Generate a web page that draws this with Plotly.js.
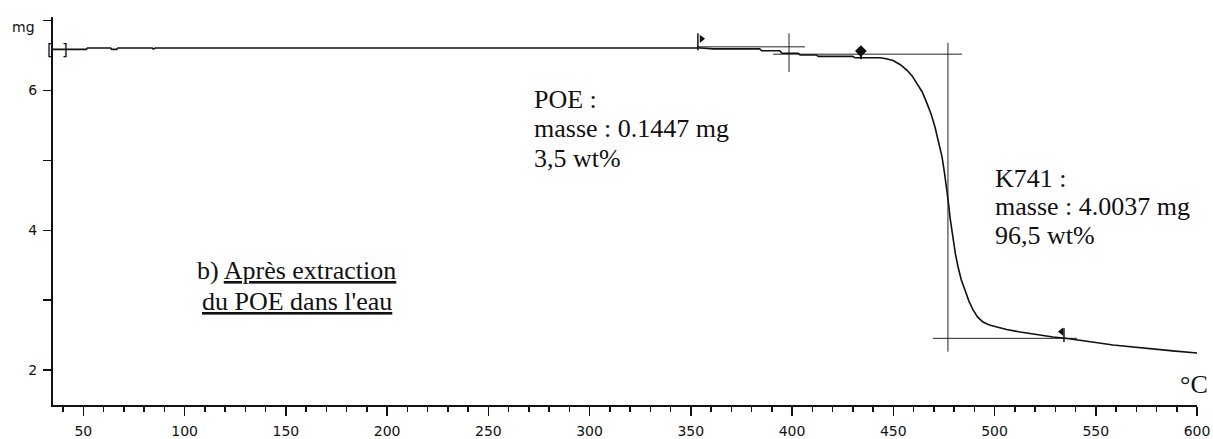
<!DOCTYPE html>
<html>
<head>
<meta charset="utf-8">
<script src="https://cdn.plot.ly/plotly-3.0.1.min.js"></script>
<style>html,body{margin:0;padding:0;background:#fff;}#chart{width:1213px;height:439px;}</style>
</head>
<body>
<div id="chart"></div>
<script>
// ---- TGA curve (temperature in °C, mass in mg) ----
const temperature = [35, 51.5, 52, 63.5, 64, 66.5, 67, 84, 84.5, 85.5, 150, 250, 340, 355, 361, 384, 385, 394, 395, 403, 404, 412, 413, 430, 431,
  443.4, 446.5, 449.9, 453.5, 456.8, 459.3, 461.7, 464.3, 466.6, 468.7, 470.6, 472.4, 474.1, 475.3, 476.5, 477.3, 478.0, 478.8, 479.5, 480.7,
  482.0, 483.6, 485.4, 487.3, 489.4, 491.6, 494.3, 497.5, 501.2, 506, 512.6, 520, 528.9, 535, 542.2, 550, 558.5, 566, 575.3, 588, 600];
const mass = [6.59, 6.59, 6.61, 6.61, 6.59, 6.59, 6.61, 6.61, 6.595, 6.61, 6.61, 6.61, 6.61, 6.61, 6.597, 6.597, 6.57, 6.57, 6.535, 6.535, 6.51, 6.51, 6.49, 6.49, 6.47,
  6.47, 6.455, 6.43, 6.37, 6.29, 6.21, 6.107, 5.98, 5.82, 5.66, 5.478, 5.27, 5.048, 4.82, 4.576, 4.38, 4.19, 4.02, 3.861, 3.66,
  3.475, 3.29, 3.146, 2.99, 2.86, 2.76, 2.687, 2.645, 2.616, 2.58, 2.544, 2.51, 2.473, 2.455, 2.43, 2.395, 2.358, 2.335, 2.315, 2.275, 2.244];

// ---- construction lines of the step analysis (x pairs / y pairs) ----
const poeTangentX = [353, 406.4],  poeTangentY = [6.626, 6.626];
const poeCrossX   = [398.5, 398.5], poeCrossY  = [6.82, 6.267];
const k741TopX    = [390.6, 483.9], k741TopY   = [6.521, 6.521];
const k741VertX   = [477, 477],     k741VertY  = [6.683, 2.263];
const k741BotX    = [469.6, 540.7], k741BotY   = [2.454, 2.454];

// ---- step markers ----
const flag1PoleX = [353.5, 353.5], flag1PoleY = [6.82, 6.578];
const flag1X = [355.3], flag1Y = [6.74];
const diamondX = [434.0], diamondY = [6.566];
const diamondStemX = [434.0, 434.0], diamondStemY = [6.6, 6.45];
const flag2PoleX = [534.3, 534.3], flag2PoleY = [2.60, 2.40];
const flag2X = [533.0], flag2Y = [2.55];

// ---- axis ticks ----
const yTickVals = [2, 3, 4, 5, 6, 7];
const yTickText = ['2', '', '4', '', '6', ''];
const yUnitText = 'mg';

// ---- texts ----
const poeLines = ['POE :', 'masse : 0.1447 mg', '3,5 wt%'];
const k741Lines = ['K741 :', 'masse : 4.0037 mg', '96,5 wt%'];
const noteLines = ['b) <span style="text-decoration:underline">Après extraction</span>', '<span style="text-decoration:underline">du POE dans l\'eau</span>'];
const unitText = '°C';

const thin = {color: '#222', width: 1};
function seg(x, y, line) {
  return {x: x, y: y, mode: 'lines', line: line || thin, hoverinfo: 'skip', showlegend: false, cliponaxis: false};
}

const traces = [
  seg(poeTangentX, poeTangentY),
  seg(poeCrossX, poeCrossY),
  seg(k741TopX, k741TopY),
  seg(k741VertX, k741VertY),
  seg(k741BotX, k741BotY),
  {x: temperature, y: mass, mode: 'lines', line: {color: '#111', width: 1.6}, showlegend: false},
  seg(flag1PoleX, flag1PoleY, {color: '#111', width: 1.5}),
  {x: flag1X, y: flag1Y, mode: 'markers', marker: {symbol: 'triangle-right', size: 7, color: '#111'}, showlegend: false},
  seg(diamondStemX, diamondStemY, {color: '#111', width: 2}),
  {x: diamondX, y: diamondY, mode: 'markers', marker: {symbol: 'diamond', size: 9, color: '#111'}, showlegend: false},
  seg(flag2PoleX, flag2PoleY, {color: '#111', width: 1.5}),
  {x: flag2X, y: flag2Y, mode: 'markers', marker: {symbol: 'triangle-left', size: 7, color: '#111'}, showlegend: false}
];

const serif = {family: 'Liberation Serif, Times New Roman, serif', size: 26, color: '#111'};
const annotations = [];
const poeY = [5.871, 5.456, 5.027];
poeLines.forEach((t, i) => annotations.push({x: 271.6, y: poeY[i], xref: 'x', yref: 'y', text: t, showarrow: false, xanchor: 'left', yanchor: 'middle', font: serif}));
const kY = [4.747, 4.340, 3.932];
k741Lines.forEach((t, i) => annotations.push({x: 499.4, y: kY[i], xref: 'x', yref: 'y', text: t, showarrow: false, xanchor: 'left', yanchor: 'middle', font: serif}));
const nY = [3.431, 2.981];
noteLines.forEach((t, i) => annotations.push({x: 155.4, y: nY[i], xref: 'x', yref: 'y', text: t, showarrow: false, xanchor: 'center', yanchor: 'middle', font: serif}));
annotations.push({x: 1.0114, y: 0.054, xref: 'paper', yref: 'paper', text: unitText, showarrow: false, xanchor: 'right', yanchor: 'middle', font: serif});
const bracketFont = {family: 'DejaVu Sans', size: 15, color: '#111'};
annotations.push({x: -0.0026, y: 0.914, xref: 'paper', yref: 'paper', text: '[', showarrow: false, xanchor: 'center', yanchor: 'middle', font: bracketFont});
annotations.push({x: 0.0105, y: 0.914, xref: 'paper', yref: 'paper', text: ']', showarrow: false, xanchor: 'center', yanchor: 'middle', font: bracketFont});
const tickFont = {family: 'DejaVu Sans, Verdana, sans-serif', size: 14, color: '#111'};
annotations.push({x: -0.0140, y: 0.974, xref: 'paper', yref: 'paper', text: yUnitText, showarrow: false, xanchor: 'right', yanchor: 'middle', font: tickFont});

const layout = {
  width: 1213, height: 439,
  margin: {l: 53, r: 16, t: 17, b: 34, pad: 0},
  paper_bgcolor: '#fff', plot_bgcolor: '#fff',
  showlegend: false,
  xaxis: {
    range: [35, 600], showgrid: false, zeroline: false,
    showline: true, linecolor: '#111', linewidth: 2,
    tick0: 0, dtick: 50, ticks: 'outside', ticklen: 9, tickwidth: 1.5, tickcolor: '#111',
    minor: {tick0: 0, dtick: 10, ticks: 'outside', ticklen: 5, tickwidth: 1.5, tickcolor: '#111', showgrid: false},
    tickfont: tickFont, ticklabelstandoff: 3
  },
  yaxis: {
    range: [1.5, 7.053], showgrid: false, zeroline: false,
    showline: true, linecolor: '#111', linewidth: 2,
    tickvals: yTickVals, ticktext: yTickText, ticks: 'outside', ticklen: 8, tickwidth: 1.5, tickcolor: '#111',
    tickfont: tickFont, ticklabelstandoff: 3
  },
  annotations: annotations
};

Plotly.newPlot('chart', traces, layout, {displayModeBar: false, staticPlot: true});
</script>
</body>
</html>
